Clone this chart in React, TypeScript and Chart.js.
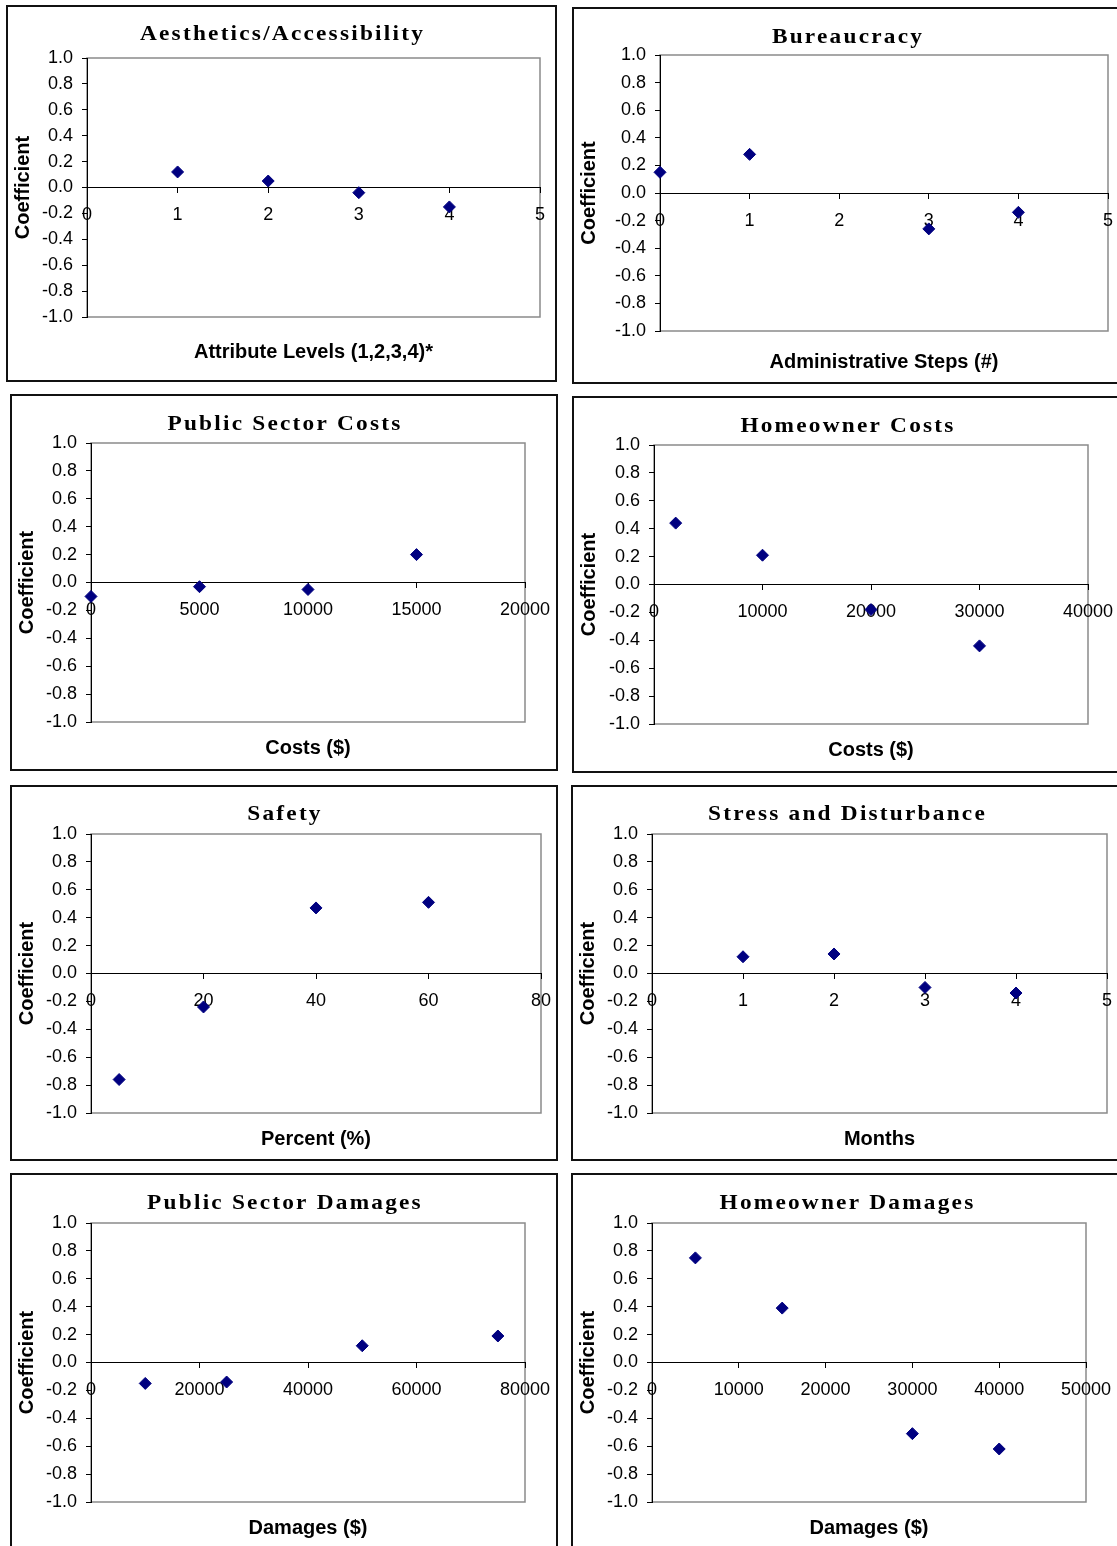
import React, { useEffect, useRef } from "react";
import { Chart, registerables } from "chart.js";

Chart.register(...registerables);

// ---------------- data ----------------
const aestheticsLevels = [1, 2, 3, 4];
const aestheticsCoef = [0.12, 0.05, -0.04, -0.15];

const bureaucracySteps = [0, 1, 3, 4];
const bureaucracyCoef = [0.15, 0.28, -0.26, -0.14];

const publicCostsX = [0, 5000, 10000, 15000];
const publicCostsCoef = [-0.1, -0.03, -0.05, 0.2];

const homeownerCostsX = [2000, 10000, 20000, 30000];
const homeownerCostsCoef = [0.44, 0.21, -0.18, -0.44];

const safetyPercent = [5, 20, 40, 60];
const safetyCoef = [-0.76, -0.24, 0.47, 0.51];

const stressMonths = [1, 2, 3, 4];
const stressCoef = [0.12, 0.14, -0.1, -0.14];

const publicDamagesX = [10000, 25000, 50000, 75000];
const publicDamagesCoef = [-0.15, -0.14, 0.12, 0.19];

const homeownerDamagesX = [5000, 15000, 30000, 40000];
const homeownerDamagesCoef = [0.75, 0.39, -0.51, -0.62];

// shared coefficient axis
const coefMin = -1;
const coefMax = 1;
const coefStep = 0.2;

// ---------------- styling ----------------
const SANS = '"Liberation Sans", Arial, Helvetica, sans-serif';
const SERIF = '"Liberation Serif", "Times New Roman", Times, serif';
const NAVY = "#000080";
const FRAME_GRAY = "#8a8a8a";

type PanelDef = {
  title: string;
  xTitle: string;
  xs: number[];
  ys: number[];
  xMax: number;
  xStep: number;
  box: [number, number, number, number]; // left, top, right, bottom (page px)
  plot: [number, number, number, number];
  titleY: number;
  xTitleY: number;
};

const panels: PanelDef[] = [
  {
    title: "Aesthetics/Accessibility",
    xTitle: "Attribute Levels (1,2,3,4)*",
    xs: aestheticsLevels,
    ys: aestheticsCoef,
    xMax: 5,
    xStep: 1,
    box: [6, 5, 557, 382],
    plot: [87, 58, 540, 317],
    titleY: 33,
    xTitleY: 352,
  },
  {
    title: "Bureaucracy",
    xTitle: "Administrative Steps (#)",
    xs: bureaucracySteps,
    ys: bureaucracyCoef,
    xMax: 5,
    xStep: 1,
    box: [572, 7, 1122, 384],
    plot: [660, 55, 1108, 331],
    titleY: 36,
    xTitleY: 362,
  },
  {
    title: "Public Sector Costs",
    xTitle: "Costs ($)",
    xs: publicCostsX,
    ys: publicCostsCoef,
    xMax: 20000,
    xStep: 5000,
    box: [10, 394, 558, 771],
    plot: [91, 443, 525, 722],
    titleY: 423,
    xTitleY: 748,
  },
  {
    title: "Homeowner Costs",
    xTitle: "Costs ($)",
    xs: homeownerCostsX,
    ys: homeownerCostsCoef,
    xMax: 40000,
    xStep: 10000,
    box: [572, 396, 1122, 773],
    plot: [654, 445, 1088, 724],
    titleY: 425,
    xTitleY: 750,
  },
  {
    title: "Safety",
    xTitle: "Percent (%)",
    xs: safetyPercent,
    ys: safetyCoef,
    xMax: 80,
    xStep: 20,
    box: [10, 785, 558, 1161],
    plot: [91, 834, 541, 1113],
    titleY: 813,
    xTitleY: 1139,
  },
  {
    title: "Stress and Disturbance",
    xTitle: "Months",
    xs: stressMonths,
    ys: stressCoef,
    xMax: 5,
    xStep: 1,
    box: [571, 785, 1122, 1161],
    plot: [652, 834, 1107, 1113],
    titleY: 813,
    xTitleY: 1139,
  },
  {
    title: "Public Sector Damages",
    xTitle: "Damages ($)",
    xs: publicDamagesX,
    ys: publicDamagesCoef,
    xMax: 80000,
    xStep: 20000,
    box: [10, 1173, 558, 1560],
    plot: [91, 1223, 525, 1502],
    titleY: 1202,
    xTitleY: 1528,
  },
  {
    title: "Homeowner Damages",
    xTitle: "Damages ($)",
    xs: homeownerDamagesX,
    ys: homeownerDamagesCoef,
    xMax: 50000,
    xStep: 10000,
    box: [571, 1173, 1122, 1560],
    plot: [652, 1223, 1086, 1502],
    titleY: 1202,
    xTitleY: 1528,
  },
];

function fmtCoef(v: number): string {
  return Math.abs(v) < 1e-9 ? "0.0" : Number(v).toFixed(1);
}

function ScatterPanel({ p }: { p: PanelDef }) {
  const ref = useRef<HTMLCanvasElement | null>(null);
  const [bl, bt, br, bb] = p.box;
  const [pl, pt, pr, pb] = p.plot;
  const w = br - bl;
  const h = bb - bt;

  useEffect(() => {
    if (!ref.current) return;

    // frame around the plot area plus the chart/axis captions
    const captions = {
      id: "panelCaptions",
      beforeDraw(chart: any) {
        const { ctx, chartArea: a } = chart;
        ctx.save();
        ctx.strokeStyle = FRAME_GRAY;
        ctx.lineWidth = 1.5;
        ctx.strokeRect(a.left, a.top, a.right - a.left, a.bottom - a.top);
        ctx.restore();
      },
      afterDraw(chart: any) {
        const { ctx, chartArea: a } = chart;
        ctx.save();
        ctx.fillStyle = "#000";
        ctx.textAlign = "center";

        // chart title: wide, letter-spaced serif
        ctx.save();
        ctx.textBaseline = "alphabetic";
        ctx.font = `bold 21px ${SERIF}`;
        (ctx as any).letterSpacing = "2px";
        ctx.translate(w / 2 + 1, p.titleY - bt + 7);
        ctx.scale(1.11, 1);
        ctx.fillText(p.title, 0, 0);
        ctx.restore();

        ctx.textBaseline = "middle";
        ctx.font = `bold 20px ${SANS}`;
        ctx.fillText(p.xTitle, (a.left + a.right) / 2, p.xTitleY - bt);

        ctx.translate(17, (a.top + a.bottom) / 2);
        ctx.rotate(-Math.PI / 2);
        ctx.fillText("Coefficient", 0, 0);
        ctx.restore();
      },
    };

    const chart = new Chart(ref.current, {
      type: "scatter",
      data: {
        datasets: [
          {
            data: p.xs.map((x, i) => ({ x, y: p.ys[i] })),
            pointStyle: "rectRot",
            pointRadius: 6,
            pointHoverRadius: 6,
            backgroundColor: NAVY,
            borderColor: NAVY,
            borderWidth: 1,
            clip: false as any,
          },
        ],
      },
      options: {
        animation: false,
        responsive: false,
        events: [],
        layout: {
          padding: { left: 0, top: pt - bt, right: br - pr, bottom: bb - pb },
        },
        plugins: {
          legend: { display: false },
          tooltip: { enabled: false },
          title: { display: false },
        },
        scales: {
          x: {
            type: "linear",
            position: { y: 0 } as any,
            min: 0,
            max: p.xMax,
            afterFit: (scale: any) => {
              // tick labels may overhang the plot edges freely
              scale.paddingLeft = 0;
              scale.paddingRight = 0;
            },
            ticks: {
              stepSize: p.xStep,
              autoSkip: false,
              maxRotation: 0,
              padding: 12,
              color: "#000",
              font: { family: SANS, size: 18 },
              callback: (v: any) => String(v),
            },
            grid: {
              drawOnChartArea: false,
              drawTicks: true,
              tickLength: 5,
              color: "#000",
              lineWidth: 1,
            },
            border: { display: true, color: "#000", width: 1 },
          },
          y: {
            type: "linear",
            position: "left",
            min: coefMin,
            max: coefMax,
            afterFit: (scale: any) => {
              scale.width = pl - bl;
            },
            ticks: {
              stepSize: coefStep,
              padding: 9,
              color: "#000",
              font: { family: SANS, size: 18 },
              callback: (v: any) => fmtCoef(Number(v)),
            },
            grid: {
              drawOnChartArea: false,
              drawTicks: true,
              tickLength: 5,
              color: "#000",
              lineWidth: 1,
            },
            border: { display: true, color: "#000", width: 1 },
          },
        },
      } as any,
      plugins: [captions as any],
    });

    return () => chart.destroy();
  }, []);

  return (
    <div
      style={{
        position: "absolute",
        left: bl,
        top: bt,
        width: w,
        height: h,
      }}
    >
      <canvas
        ref={ref}
        width={w}
        height={h}
        style={{ position: "absolute", left: 0, top: 0, width: w, height: h }}
      />
      <div
        style={{
          position: "absolute",
          inset: 0,
          border: "2px solid #111",
          pointerEvents: "none",
        }}
      />
    </div>
  );
}

export default function App() {
  return (
    <div
      style={{
        position: "absolute",
        left: 0,
        top: 0,
        width: 1117,
        height: 1546,
        overflow: "hidden",
        background: "#fff",
      }}
    >
      {panels.map((p) => (
        <ScatterPanel key={p.title} p={p} />
      ))}
    </div>
  );
}
